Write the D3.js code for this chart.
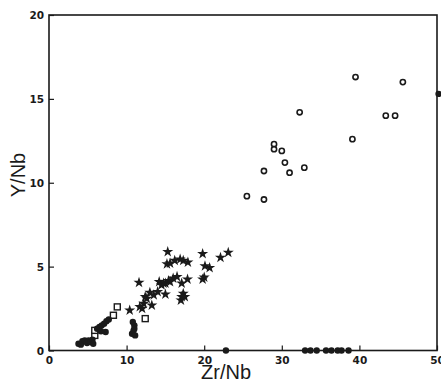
<!DOCTYPE html>
<html>
<head>
<meta charset="utf-8">
<script src="https://cdn.jsdelivr.net/npm/d3@7"></script>
<style>
  body { margin: 0; background: #fff; }
  svg { display: block; }
</style>
</head>
<body>
<svg id="chart"></svg>
<script>
// Zr/Nb vs Y/Nb
const xTicks = [0, 10, 20, 30, 40, 50];
const yTicks = [0, 5, 10, 15, 20];

const openCircles = [
  [25.5, 9.2], [27.7, 10.7], [27.7, 9.0], [29.0, 12.3], [29.0, 12.0],
  [30.0, 11.9], [30.4, 11.2], [31.0, 10.6], [32.9, 10.9], [32.3, 14.2],
  [39.1, 12.6], [39.5, 16.3], [43.4, 14.0], [44.6, 14.0], [45.6, 16.0]
];

const filledCircles = [
  [22.8, 0], [33.0, 0], [33.7, 0], [34.5, 0], [35.7, 0], [36.4, 0],
  [37.2, 0], [37.7, 0], [38.6, 0], [50.2, 15.3],
  [3.8, 0.4], [4.1, 0.35], [4.3, 0.55], [4.6, 0.6], [4.9, 0.45], [5.1, 0.6],
  [5.4, 0.5], [5.6, 0.65], [5.7, 0.4], [6.2, 1.3], [6.5, 1.4], [6.8, 1.5],
  [7.1, 1.6], [7.4, 1.75], [7.7, 1.85], [6.7, 1.15], [7.3, 1.1],
  [10.7, 1.0], [10.9, 1.2], [11.0, 1.5], [10.8, 1.7], [11.1, 0.9], [11.0, 1.3]
];

const stars = [
  [10.4, 2.4], [11.6, 4.05], [11.7, 2.6], [12.0, 2.5], [12.2, 2.8], [12.4, 3.2],
  [12.6, 3.1], [13.0, 3.45], [13.25, 2.7], [13.5, 3.3], [14.0, 3.5], [14.2, 4.1],
  [14.5, 3.9], [14.75, 4.0], [15.0, 3.35], [15.0, 4.0], [15.4, 4.15], [15.6, 4.1],
  [16.0, 4.3], [16.5, 4.4], [17.1, 4.0], [17.85, 4.25], [17.0, 3.0], [17.1, 3.2],
  [17.3, 3.4], [17.5, 3.2], [15.2, 5.16], [15.3, 5.88], [15.6, 5.2], [16.2, 5.36],
  [16.9, 5.44], [17.3, 5.36], [17.9, 5.26], [19.8, 5.76], [20.1, 5.04], [20.7, 4.93],
  [20.0, 4.37], [19.8, 4.25], [22.1, 5.54], [23.1, 5.84]
];

const openSquares = [
  [5.9, 0.9], [5.9, 1.2], [8.3, 2.1], [8.8, 2.6], [12.4, 1.9]
];

const width = 441, height = 382;
const m = { left: 49, right: 437, top: 15, bottom: 350.5 };

const svg = d3.select('#chart')
    .attr('width', width)
    .attr('height', height)
    .style('font-family', '"Liberation Sans", Arial, sans-serif');

const x = d3.scaleLinear().domain([0, 50]).range([m.left, m.right]);
const y = d3.scaleLinear().domain([0, 20]).range([m.bottom, m.top]);

const ink = '#1a1a1a';

// frame
svg.append('rect')
    .attr('x', m.left).attr('y', m.top)
    .attr('width', m.right - m.left).attr('height', m.bottom - m.top)
    .attr('fill', 'none').attr('stroke', ink).attr('stroke-width', 1.6);

// axes with inward ticks
const xAxis = svg.append('g')
    .attr('transform', `translate(0,${m.bottom})`)
    .call(d3.axisBottom(x).tickValues(xTicks).tickSizeInner(-5).tickSizeOuter(0).tickPadding(6));
const yAxis = svg.append('g')
    .attr('transform', `translate(${m.left},0)`)
    .call(d3.axisLeft(y).tickValues(yTicks).tickSizeInner(-5).tickSizeOuter(0).tickPadding(5));

[xAxis, yAxis].forEach(a => {
    a.select('.domain').remove();
    a.selectAll('line').attr('stroke', ink).attr('stroke-width', 1.2);
    a.selectAll('text')
        .attr('fill', ink)
        .style('font-size', '10.5px')
        .style('font-weight', 'bold')
        .style('font-family', '"DejaVu Sans", sans-serif');
});
yAxis.selectAll('text').attr('dy', '0.35em');

// axis titles
svg.append('text')
    .attr('x', 226).attr('y', 379)
    .attr('text-anchor', 'middle')
    .attr('fill', ink)
    .style('font-size', '20px')
    .text('Zr/Nb');

svg.append('text')
    .attr('transform', `translate(25,175) rotate(-90)`)
    .attr('text-anchor', 'middle')
    .attr('fill', ink)
    .style('font-size', '20px')
    .text('Y/Nb');

// marks
const g = svg.append('g');

g.selectAll('circle.open')
    .data(openCircles)
    .enter()
    .append('circle')
    .attr('class', 'open')
    .attr('cx', d => x(d[0]))
    .attr('cy', d => y(d[1]))
    .attr('r', 2.6)
    .attr('fill', '#fff')
    .attr('stroke', ink)
    .attr('stroke-width', 1.6);

g.selectAll('rect.sq')
    .data(openSquares)
    .enter()
    .append('rect')
    .attr('class', 'sq')
    .attr('x', d => x(d[0]) - 3)
    .attr('y', d => y(d[1]) - 3)
    .attr('width', 6)
    .attr('height', 6)
    .attr('fill', '#fff')
    .attr('stroke', ink)
    .attr('stroke-width', 1.4);

const star = d3.symbol().type(d3.symbolStar).size(38);
g.selectAll('path.star')
    .data(stars)
    .enter()
    .append('path')
    .attr('class', 'star')
    .attr('d', star)
    .attr('transform', d => `translate(${x(d[0])},${y(d[1])})`)
    .attr('fill', ink);

g.selectAll('circle.filled')
    .data(filledCircles)
    .enter()
    .append('circle')
    .attr('class', 'filled')
    .attr('cx', d => x(d[0]))
    .attr('cy', d => y(d[1]))
    .attr('r', 3.2)
    .attr('fill', ink);
</script>
</body>
</html>
